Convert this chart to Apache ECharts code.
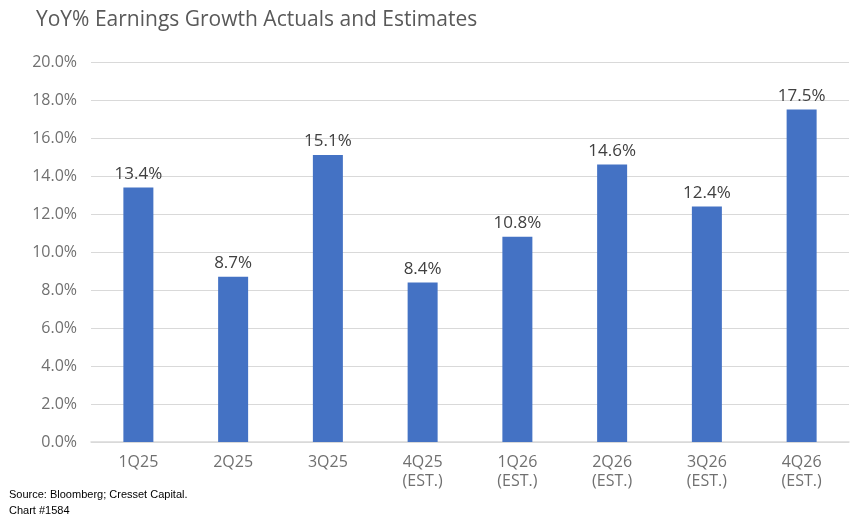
<!DOCTYPE html>
<html lang="en">
<head>
    <meta charset="UTF-8">
    <title>YoY% Earnings Growth Actuals and Estimates</title>
    <script src="https://cdn.jsdelivr.net/npm/echarts@6/dist/echarts.min.js"></script>
    <style>
        html, body { margin: 0; padding: 0; background: #fff; }
        #chart { width: 861px; height: 531px; }
    </style>
</head>
<body>
    <div id="chart"></div>
    <script>
        // quarters and YoY earnings growth (%)
        var quarters = ['1Q25', '2Q25', '3Q25', '4Q25\n(EST.)', '1Q26\n(EST.)', '2Q26\n(EST.)', '3Q26\n(EST.)', '4Q26\n(EST.)'];
        var growth = [13.4, 8.7, 15.1, 8.4, 10.8, 14.6, 12.4, 17.5];
        var sourceLines = ['Source: Bloomberg; Cresset Capital.', 'Chart #1584'];

        var chart = echarts.init(document.getElementById('chart'));

        chart.setOption({
            animation: false,
            title: {
                text: 'YoY% Earnings Growth Actuals and Estimates',
                left: 31,
                top: 5,
                textStyle: {
                    fontFamily: 'Open Sans',
                    fontWeight: 'normal',
                    fontSize: 21,
                    color: '#595959'
                }
            },
            graphic: [{
                type: 'text',
                left: 9,
                top: 487,
                style: {
                    text: sourceLines.join('\n'),
                    font: '11px "Liberation Sans"',
                    lineHeight: 16,
                    fill: '#000'
                }
            }],
            grid: { left: 91, right: 12, top: 62, bottom: 89 },
            xAxis: {
                type: 'category',
                data: quarters,
                axisLine: { lineStyle: { color: '#d9d9d9', width: 1.5 } },
                axisTick: { show: false },
                axisLabel: {
                    margin: 11,
                    fontFamily: 'Open Sans',
                    fontSize: 16,
                    lineHeight: 19,
                    color: '#707070'
                }
            },
            yAxis: {
                type: 'value',
                min: 0,
                max: 20,
                interval: 2,
                axisLine: { show: false },
                axisTick: { show: false },
                splitLine: { lineStyle: { color: '#d9d9d9', width: 1 } },
                axisLabel: {
                    margin: 14,
                    fontFamily: 'Open Sans',
                    fontSize: 16,
                    color: '#707070',
                    formatter: function (v) { return v.toFixed(1) + '%'; }
                }
            },
            series: [{
                type: 'bar',
                data: growth,
                barWidth: 30,
                itemStyle: { color: '#4472C4' },
                label: {
                    show: true,
                    position: 'top',
                    distance: 5,
                    fontFamily: 'Open Sans',
                    fontSize: 17,
                    color: '#404040',
                    formatter: function (p) { return p.value.toFixed(1) + '%'; }
                }
            }]
        });
    </script>
</body>
</html>
